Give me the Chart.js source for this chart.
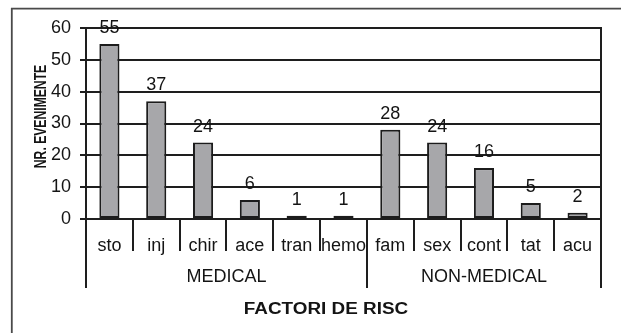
<!DOCTYPE html>
<html>
<head>
<meta charset="utf-8">
<script src="https://cdn.jsdelivr.net/npm/chart.js@4/dist/chart.umd.min.js"></script>
<style>
  html, body { margin: 0; padding: 0; background: #fff; }
  #wrap { width: 621px; height: 333px; }
</style>
</head>
<body>
<div id="wrap"><canvas id="c" width="621" height="333"></canvas></div>
<script>
// Risk factors (short codes) and number of events per factor
const categories = ['sto', 'inj', 'chir', 'ace', 'tran', 'hemo', 'fam', 'sex', 'cont', 'tat', 'acu'];
const events = [55, 37, 24, 6, 1, 1, 28, 24, 16, 5, 2];
// Factor groups, in category order
const groupNames = ['MEDICAL', 'NON-MEDICAL'];
const groupSizes = [6, 5];
// Value axis ticks
const yTicks = [0, 10, 20, 30, 40, 50, 60];
const yTitle = 'NR. EVENIMENTE';
const xTitle = 'FACTORI DE RISC';

const FONT = "'Liberation Sans', Arial, Helvetica, sans-serif";
const INK = '#141414';
const LINE = '#1e1e1e';

// Outer frame and white background
const framePlugin = {
  id: 'frame',
  beforeDraw(chart) {
    const ctx = chart.ctx;
    ctx.save();
    ctx.fillStyle = '#fff';
    ctx.fillRect(0, 0, chart.width, chart.height);
    ctx.strokeStyle = '#4a4a4a';
    ctx.lineWidth = 1.8;
    ctx.beginPath();
    ctx.moveTo(11.8, chart.height + 2);
    ctx.lineTo(11.8, 8.7);
    ctx.lineTo(chart.width + 2, 8.7);
    ctx.stroke();
    ctx.restore();
  }
};

// Numbers above the bars
const valueLabelPlugin = {
  id: 'valueLabels',
  afterDatasetsDraw(chart) {
    const ctx = chart.ctx;
    const meta = chart.getDatasetMeta(0);
    const vals = chart.data.datasets[0].data;
    ctx.save();
    ctx.font = '18px ' + FONT;
    ctx.fillStyle = INK;
    ctx.textAlign = 'center';
    ctx.textBaseline = 'alphabetic';
    meta.data.forEach((bar, i) => {
      ctx.fillText(String(vals[i]), bar.x, bar.y - 11);
    });
    ctx.restore();
  }
};

// Category separators, group labels, right border and axis titles
const groupAxisPlugin = {
  id: 'groupAxis',
  afterDraw(chart) {
    const ctx = chart.ctx;
    const xs = chart.scales.x;
    const area = chart.chartArea;
    const n = categories.length;
    const half = (xs.getPixelForValue(1) - xs.getPixelForValue(0)) / 2;
    const edge = i => (i < n ? xs.getPixelForValue(i) - half : xs.getPixelForValue(n - 1) + half);

    // which boundaries start a group
    const groupEdges = [0];
    groupSizes.forEach(s => groupEdges.push(groupEdges[groupEdges.length - 1] + s));

    ctx.save();
    ctx.strokeStyle = LINE;
    ctx.lineWidth = 2;
    ctx.beginPath();
    for (let i = 0; i <= n; i++) {
      const x = Math.round(edge(i));
      const longLine = groupEdges.includes(i);
      ctx.moveTo(x, area.bottom);
      ctx.lineTo(x, area.bottom + (longLine ? 69 : 32));
    }
    // right side of the plot area
    const xr = Math.round(edge(n));
    ctx.moveTo(xr, area.top - 1);
    ctx.lineTo(xr, area.bottom);
    ctx.stroke();

    // group names, centred under their categories
    ctx.font = '18px ' + FONT;
    ctx.fillStyle = INK;
    ctx.textAlign = 'center';
    ctx.textBaseline = 'middle';
    groupNames.forEach((name, g) => {
      const cx = (edge(groupEdges[g]) + edge(groupEdges[g + 1])) / 2;
      ctx.fillText(name, cx, area.bottom + 58);
    });

    // horizontal axis title
    ctx.font = 'bold 16px ' + FONT;
    ctx.save();
    ctx.translate(326, 310);
    ctx.scale(1.18, 1);
    ctx.fillText(xTitle, 0, 0);
    ctx.restore();

    // vertical axis title
    ctx.save();
    ctx.translate(41.5, 116.5);
    ctx.rotate(-Math.PI / 2);
    ctx.scale(0.76, 1);
    ctx.fillText(yTitle, 0, 0);
    ctx.restore();

    ctx.restore();
  }
};

new Chart(document.getElementById('c'), {
  type: 'bar',
  data: {
    labels: categories,
    datasets: [{
      data: events,
      backgroundColor: '#a7a7aa',
      borderColor: '#1c1c1c',
      borderWidth: 2,
      borderSkipped: false,
      categoryPercentage: 1,
      barPercentage: 0.43
    }]
  },
  options: {
    responsive: false,
    animation: false,
    devicePixelRatio: 1,
    layout: { padding: { top: 28, right: 20, bottom: 0, left: 0 } },
    plugins: {
      legend: { display: false },
      tooltip: { enabled: false },
      title: { display: false }
    },
    scales: {
      x: {
        grid: { display: false },
        border: { display: false },
        ticks: {
          autoSkip: false,
          maxRotation: 0,
          minRotation: 0,
          padding: 8,
          color: INK,
          font: { family: FONT, size: 18 }
        },
        afterFit(scale) { scale.height = 114; }
      },
      y: {
        min: yTicks[0],
        max: yTicks[yTicks.length - 1],
        afterBuildTicks(scale) { scale.ticks = yTicks.map(v => ({ value: v })); },
        grid: { color: LINE, lineWidth: 2, tickLength: 6, drawTicks: true },
        border: { display: true, color: LINE, width: 2 },
        ticks: {
          padding: 9,
          color: INK,
          font: { family: FONT, size: 18 }
        },
        afterFit(scale) { scale.width = 86; }
      }
    }
  },
  plugins: [framePlugin, valueLabelPlugin, groupAxisPlugin]
});
</script>
</body>
</html>
